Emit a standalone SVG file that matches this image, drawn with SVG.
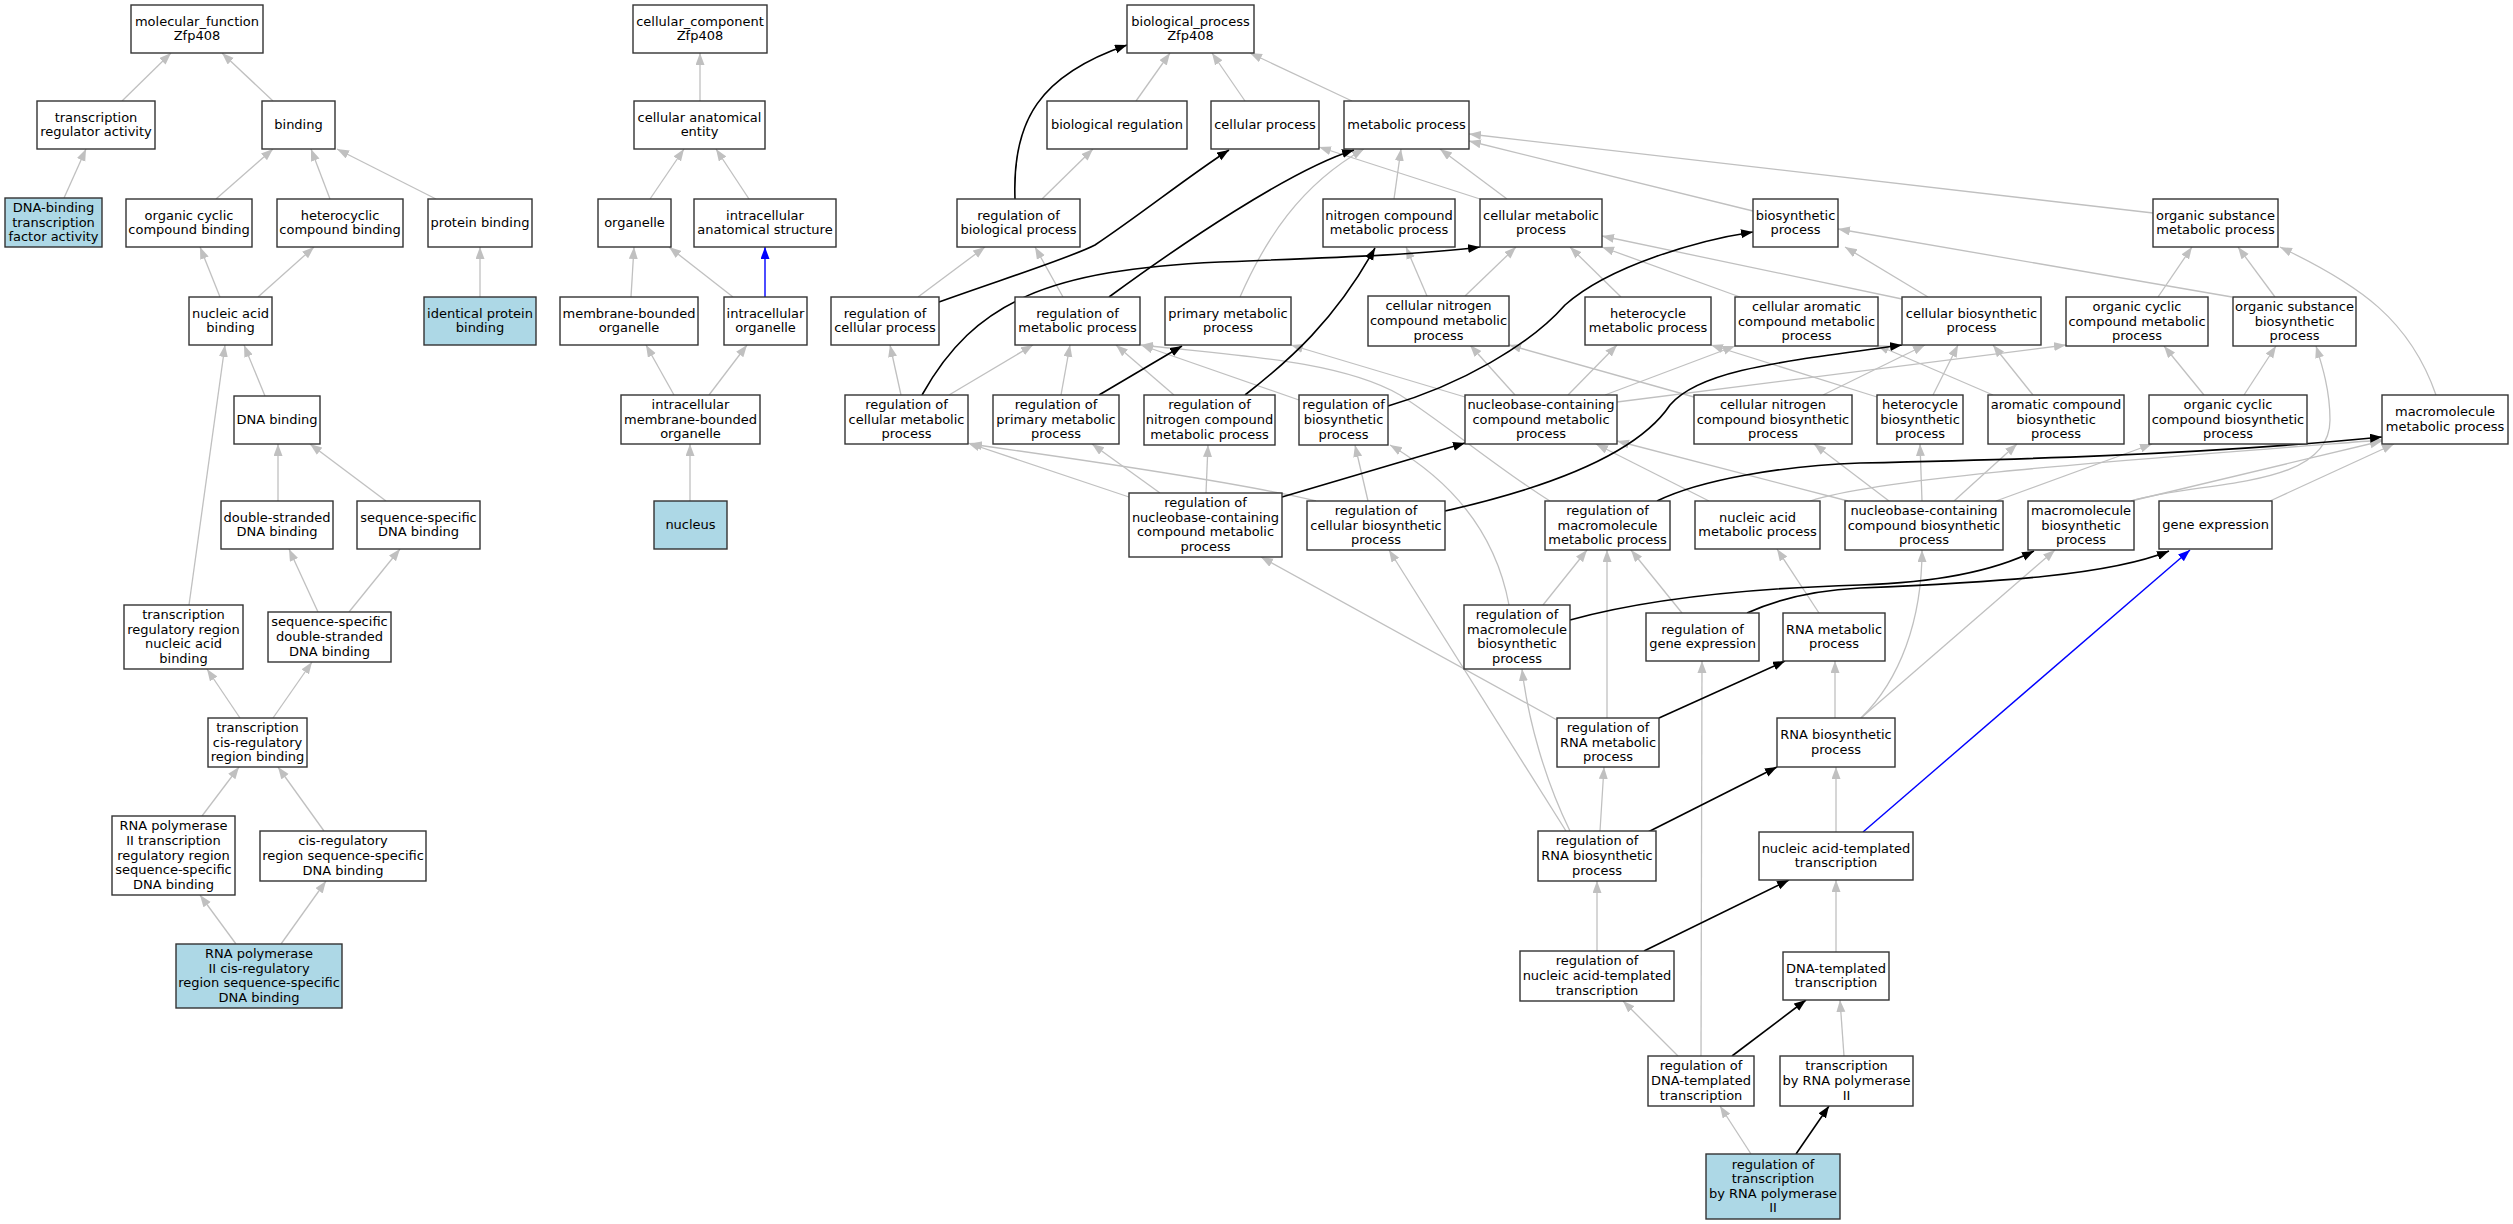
<svg xmlns="http://www.w3.org/2000/svg" width="2513" height="1224" viewBox="0 0 2513 1224">
<style>
.n rect{fill:#fff;stroke:#333;stroke-width:1.4}
.n.b rect{fill:#add8e6}
text{font-family:"DejaVu Sans","Liberation Sans",sans-serif;font-size:13px;text-anchor:middle;fill:#000}
.g{stroke:#c0c0c0;stroke-width:1.3;fill:none;marker-end:url(#ag)}
.k{stroke:#000;stroke-width:1.6;fill:none;marker-end:url(#ak)}
.u{stroke:#0000ff;stroke-width:1.4;fill:none;marker-end:url(#au)}
</style>
<defs>
<marker id="ag" markerUnits="userSpaceOnUse" markerWidth="13" markerHeight="10" refX="12" refY="4.5" orient="auto"><path d="M0,0 L12,4.5 L0,9 Z" fill="#c0c0c0"/></marker>
<marker id="ak" markerUnits="userSpaceOnUse" markerWidth="13" markerHeight="10" refX="12" refY="4.5" orient="auto"><path d="M0,0 L12,4.5 L0,9 Z" fill="#000"/></marker>
<marker id="au" markerUnits="userSpaceOnUse" markerWidth="13" markerHeight="10" refX="12" refY="4.5" orient="auto"><path d="M0,0 L12,4.5 L0,9 Z" fill="#0000ff"/></marker>
</defs>
<rect width="2513" height="1224" fill="#fff"/>
<g id="edges">
<path class="g" d="M122,101 L171,53"/>
<path class="g" d="M273,101 L222,53"/>
<path class="g" d="M64,198 L86,149"/>
<path class="g" d="M216,199 L273,149"/>
<path class="g" d="M330,199 L311,149"/>
<path class="g" d="M436,199 L337,149"/>
<path class="g" d="M480,297 L480,247"/>
<path class="g" d="M220,297 L200,247"/>
<path class="g" d="M258,297 L314,247"/>
<path class="g" d="M265,396 L244,345"/>
<path class="g" d="M189,605 L225,345"/>
<path class="g" d="M278,501 L278,444"/>
<path class="g" d="M386,501 L310,444"/>
<path class="g" d="M318,612 L289,549"/>
<path class="g" d="M349,612 L400,549"/>
<path class="g" d="M240,718 L207,669"/>
<path class="g" d="M273,718 L312,662"/>
<path class="g" d="M202,816 L239,767"/>
<path class="g" d="M324,831 L278,767"/>
<path class="g" d="M236,944 L200,895"/>
<path class="g" d="M281,944 L326,881"/>
<path class="g" d="M700,101 L700,53"/>
<path class="g" d="M650,199 L684,149"/>
<path class="g" d="M749,199 L716,149"/>
<path class="g" d="M631,297 L634,247"/>
<path class="g" d="M733,297 L669,247"/>
<path class="u" d="M765,297 L765,247"/>
<path class="g" d="M674,395 L646,345"/>
<path class="g" d="M709,395 L747,345"/>
<path class="g" d="M690,501 L690,444"/>
<path class="g" d="M1136,101 L1170,53"/>
<path class="g" d="M1245,101 L1212,53"/>
<path class="g" d="M1352,101 L1250,53"/>
<path class="g" d="M1042,199 L1093,149"/>
<path class="g" d="M918,297 L985,247"/>
<path class="g" d="M1063,297 L1035,247"/>
<path class="g" d="M901,395 L890,345"/>
<path class="g" d="M949,395 L1033,345"/>
<path class="g" d="M1061,395 L1070,345"/>
<path class="g" d="M1174,395 L1116,345"/>
<path class="g" d="M1299,400 L1141,345"/>
<path class="g" d="M1394,199 L1401,149"/>
<path class="g" d="M1507,199 L1440,149"/>
<path class="g" d="M1480,199 L1319,147"/>
<path class="g" d="M1753,211 L1469,141"/>
<path class="g" d="M2153,213 L1469,134"/>
<path class="g" d="M1240,297 C1265,240 1300,185 1364,149"/>
<path class="g" d="M1427,296 L1406,247"/>
<path class="g" d="M1465,296 L1516,247"/>
<path class="g" d="M1621,297 L1570,247"/>
<path class="g" d="M1740,297 L1602,247"/>
<path class="g" d="M1902,299 L1602,236"/>
<path class="g" d="M1928,297 L1845,247"/>
<path class="g" d="M2232,297 L1838,229"/>
<path class="g" d="M2275,297 L2238,247"/>
<path class="g" d="M2158,297 L2192,247"/>
<path class="g" d="M2436,395 C2410,320 2360,285 2280,247"/>
<path class="g" d="M1465,397 L1291,345"/>
<path class="g" d="M1515,395 L1470,345"/>
<path class="g" d="M1568,395 L1617,345"/>
<path class="g" d="M1605,395 L1735,346"/>
<path class="g" d="M1617,402 L2066,345"/>
<path class="g" d="M1694,397 L1509,345"/>
<path class="g" d="M1823,395 L1925,345"/>
<path class="g" d="M1877,397 L1711,345"/>
<path class="g" d="M1933,395 L1958,345"/>
<path class="g" d="M1993,395 L1877,345"/>
<path class="g" d="M2033,395 L1993,345"/>
<path class="g" d="M2204,395 L2164,346"/>
<path class="g" d="M2244,395 L2276,346"/>
<path class="g" d="M1129,497 L968,443"/>
<path class="g" d="M1160,493 L1092,444"/>
<path class="g" d="M1206,493 L1208,445"/>
<path class="g" d="M1368,501 L1355,445"/>
<path class="g" d="M1316,501 C1250,485 1120,465 970,444"/>
<path class="g" d="M1550,501 C1500,470 1440,420 1400,395 C1340,360 1230,355 1141,345"/>
<path class="g" d="M1709,501 L1596,444"/>
<path class="g" d="M1810,501 C1880,478 2100,462 2382,440"/>
<path class="g" d="M1848,501 L1617,441"/>
<path class="g" d="M1889,501 L1814,444"/>
<path class="g" d="M1922,501 L1920,444"/>
<path class="g" d="M1954,501 L2017,444"/>
<path class="g" d="M1996,501 L2152,444"/>
<path class="g" d="M2131,501 L2382,441"/>
<path class="g" d="M2131,501 C2200,480 2330,490 2330,420 C2330,390 2322,365 2316,346"/>
<path class="g" d="M2270,501 L2394,444"/>
<path class="g" d="M1543,605 L1587,550"/>
<path class="g" d="M1509,605 C1495,530 1450,480 1390,445"/>
<path class="g" d="M1682,613 L1631,550"/>
<path class="g" d="M1819,613 L1777,549"/>
<path class="g" d="M1607,718 L1607,550"/>
<path class="g" d="M1557,720 L1261,557"/>
<path class="g" d="M1835,718 L1835,661"/>
<path class="g" d="M1861,718 L2055,550"/>
<path class="g" d="M1861,718 C1900,680 1922,620 1922,550"/>
<path class="g" d="M1600,831 L1604,767"/>
<path class="g" d="M1570,831 C1545,780 1528,720 1522,669"/>
<path class="g" d="M1566,831 L1389,550"/>
<path class="g" d="M1836,832 L1836,767"/>
<path class="g" d="M1597,951 L1597,881"/>
<path class="g" d="M1836,952 L1836,880"/>
<path class="g" d="M1678,1056 L1623,1001"/>
<path class="g" d="M1701,1056 L1702,661"/>
<path class="g" d="M1844,1056 L1840,1000"/>
<path class="g" d="M1751,1154 L1720,1106"/>
<path class="k" d="M1015,199 C1012,120 1040,75 1127,45"/>
<path class="k" d="M939,302 C1000,280 1070,258 1095,245 C1140,215 1190,175 1229,150"/>
<path class="k" d="M1109,297 C1180,245 1290,170 1354,150"/>
<path class="k" d="M922,395 C975,300 1050,270 1220,262 C1320,258 1420,255 1480,247"/>
<path class="k" d="M1099,395 L1182,346"/>
<path class="k" d="M1245,395 C1290,360 1335,320 1375,248"/>
<path class="k" d="M1388,406 C1460,385 1530,345 1565,305 C1610,265 1700,240 1753,232"/>
<path class="k" d="M1282,497 L1465,443"/>
<path class="k" d="M1445,511 C1560,485 1640,450 1670,405 C1700,370 1780,362 1902,345"/>
<path class="k" d="M1657,501 C1700,480 1780,466 1860,463 C2000,460 2200,455 2382,437"/>
<path class="k" d="M1570,620 C1650,598 1760,588 1860,585 C1950,582 2000,568 2034,551"/>
<path class="k" d="M1747,613 C1780,598 1820,590 1860,588 C2000,582 2110,575 2169,551"/>
<path class="k" d="M1659,718 L1785,661"/>
<path class="k" d="M1648,832 L1777,767"/>
<path class="k" d="M1644,951 L1789,880"/>
<path class="k" d="M1732,1056 L1806,1000"/>
<path class="k" d="M1796,1154 L1829,1106"/>
<path class="u" d="M1863,832 L2190,550"/>
</g>
<g id="n_mf" class="n"><rect x="131" y="5" width="132" height="48"/><text x="197" y="25.7"><tspan x="197">molecular_function</tspan><tspan x="197" dy="14.6">Zfp408</tspan></text></g>
<g id="n_tra" class="n"><rect x="37" y="101" width="118" height="48"/><text x="96" y="121.7"><tspan x="96">transcription</tspan><tspan x="96" dy="14.6">regulator activity</tspan></text></g>
<g id="n_bind" class="n"><rect x="262" y="101" width="73" height="48"/><text x="298.5" y="129">binding</text></g>
<g id="n_dbtf" class="n b"><rect x="5" y="198" width="97" height="49"/><text x="53.5" y="211.9"><tspan x="53.5">DNA-binding</tspan><tspan x="53.5" dy="14.6">transcription</tspan><tspan x="53.5" dy="14.6">factor activity</tspan></text></g>
<g id="n_ocb" class="n"><rect x="126" y="199" width="126" height="48"/><text x="189" y="219.7"><tspan x="189">organic cyclic</tspan><tspan x="189" dy="14.6">compound binding</tspan></text></g>
<g id="n_hcb" class="n"><rect x="277" y="199" width="126" height="48"/><text x="340" y="219.7"><tspan x="340">heterocyclic</tspan><tspan x="340" dy="14.6">compound binding</tspan></text></g>
<g id="n_pb" class="n"><rect x="428" y="199" width="104" height="48"/><text x="480" y="227">protein binding</text></g>
<g id="n_nab" class="n"><rect x="189" y="297" width="83" height="48"/><text x="230.5" y="317.7"><tspan x="230.5">nucleic acid</tspan><tspan x="230.5" dy="14.6">binding</tspan></text></g>
<g id="n_ipb" class="n b"><rect x="424" y="297" width="112" height="48"/><text x="480" y="317.7"><tspan x="480">identical protein</tspan><tspan x="480" dy="14.6">binding</tspan></text></g>
<g id="n_dnab" class="n"><rect x="234" y="396" width="86" height="48"/><text x="277" y="424">DNA binding</text></g>
<g id="n_dsdna" class="n"><rect x="221" y="501" width="112" height="48"/><text x="277" y="521.7"><tspan x="277">double-stranded</tspan><tspan x="277" dy="14.6">DNA binding</tspan></text></g>
<g id="n_ssdna" class="n"><rect x="357" y="501" width="123" height="48"/><text x="418.5" y="521.7"><tspan x="418.5">sequence-specific</tspan><tspan x="418.5" dy="14.6">DNA binding</tspan></text></g>
<g id="n_trrnab" class="n"><rect x="124" y="605" width="119" height="64"/><text x="183.5" y="619.1"><tspan x="183.5">transcription</tspan><tspan x="183.5" dy="14.6">regulatory region</tspan><tspan x="183.5" dy="14.6">nucleic acid</tspan><tspan x="183.5" dy="14.6">binding</tspan></text></g>
<g id="n_ssds" class="n"><rect x="268" y="612" width="123" height="50"/><text x="329.5" y="626.4"><tspan x="329.5">sequence-specific</tspan><tspan x="329.5" dy="14.6">double-stranded</tspan><tspan x="329.5" dy="14.6">DNA binding</tspan></text></g>
<g id="n_tcrrb" class="n"><rect x="208" y="718" width="99" height="49"/><text x="257.5" y="731.9"><tspan x="257.5">transcription</tspan><tspan x="257.5" dy="14.6">cis-regulatory</tspan><tspan x="257.5" dy="14.6">region binding</tspan></text></g>
<g id="n_p2trr" class="n"><rect x="112" y="816" width="123" height="79"/><text x="173.5" y="830.3"><tspan x="173.5">RNA polymerase</tspan><tspan x="173.5" dy="14.6">II transcription</tspan><tspan x="173.5" dy="14.6">regulatory region</tspan><tspan x="173.5" dy="14.6">sequence-specific</tspan><tspan x="173.5" dy="14.6">DNA binding</tspan></text></g>
<g id="n_crss" class="n"><rect x="260" y="831" width="166" height="50"/><text x="343" y="845.4"><tspan x="343">cis-regulatory</tspan><tspan x="343" dy="14.6">region sequence-specific</tspan><tspan x="343" dy="14.6">DNA binding</tspan></text></g>
<g id="n_p2cr" class="n b"><rect x="176" y="944" width="166" height="64"/><text x="259" y="958.1"><tspan x="259">RNA polymerase</tspan><tspan x="259" dy="14.6">II cis-regulatory</tspan><tspan x="259" dy="14.6">region sequence-specific</tspan><tspan x="259" dy="14.6">DNA binding</tspan></text></g>
<g id="n_cc" class="n"><rect x="633" y="5" width="134" height="48"/><text x="700" y="25.7"><tspan x="700">cellular_component</tspan><tspan x="700" dy="14.6">Zfp408</tspan></text></g>
<g id="n_cae" class="n"><rect x="634" y="101" width="131" height="48"/><text x="699.5" y="121.7"><tspan x="699.5">cellular anatomical</tspan><tspan x="699.5" dy="14.6">entity</tspan></text></g>
<g id="n_org" class="n"><rect x="598" y="199" width="73" height="48"/><text x="634.5" y="227">organelle</text></g>
<g id="n_ias" class="n"><rect x="694" y="199" width="142" height="48"/><text x="765" y="219.7"><tspan x="765">intracellular</tspan><tspan x="765" dy="14.6">anatomical structure</tspan></text></g>
<g id="n_mbo" class="n"><rect x="560" y="297" width="138" height="48"/><text x="629" y="317.7"><tspan x="629">membrane-bounded</tspan><tspan x="629" dy="14.6">organelle</tspan></text></g>
<g id="n_io" class="n"><rect x="724" y="297" width="83" height="48"/><text x="765.5" y="317.7"><tspan x="765.5">intracellular</tspan><tspan x="765.5" dy="14.6">organelle</tspan></text></g>
<g id="n_imbo" class="n"><rect x="621" y="395" width="139" height="49"/><text x="690.5" y="408.9"><tspan x="690.5">intracellular</tspan><tspan x="690.5" dy="14.6">membrane-bounded</tspan><tspan x="690.5" dy="14.6">organelle</tspan></text></g>
<g id="n_nuc" class="n b"><rect x="654" y="501" width="73" height="48"/><text x="690.5" y="529">nucleus</text></g>
<g id="n_bp" class="n"><rect x="1127" y="5" width="127" height="48"/><text x="1190.5" y="25.7"><tspan x="1190.5">biological_process</tspan><tspan x="1190.5" dy="14.6">Zfp408</tspan></text></g>
<g id="n_breg" class="n"><rect x="1047" y="101" width="140" height="48"/><text x="1117" y="129">biological regulation</text></g>
<g id="n_cp" class="n"><rect x="1211" y="101" width="108" height="48"/><text x="1265" y="129">cellular process</text></g>
<g id="n_mp" class="n"><rect x="1344" y="101" width="125" height="48"/><text x="1406.5" y="129">metabolic process</text></g>
<g id="n_rbp" class="n"><rect x="957" y="199" width="123" height="48"/><text x="1018.5" y="219.7"><tspan x="1018.5">regulation of</tspan><tspan x="1018.5" dy="14.6">biological process</tspan></text></g>
<g id="n_ncmp" class="n"><rect x="1323" y="199" width="132" height="48"/><text x="1389" y="219.7"><tspan x="1389">nitrogen compound</tspan><tspan x="1389" dy="14.6">metabolic process</tspan></text></g>
<g id="n_cmp" class="n"><rect x="1480" y="199" width="122" height="48"/><text x="1541" y="219.7"><tspan x="1541">cellular metabolic</tspan><tspan x="1541" dy="14.6">process</tspan></text></g>
<g id="n_bsp" class="n"><rect x="1753" y="199" width="85" height="48"/><text x="1795.5" y="219.7"><tspan x="1795.5">biosynthetic</tspan><tspan x="1795.5" dy="14.6">process</tspan></text></g>
<g id="n_osm" class="n"><rect x="2153" y="199" width="125" height="48"/><text x="2215.5" y="219.7"><tspan x="2215.5">organic substance</tspan><tspan x="2215.5" dy="14.6">metabolic process</tspan></text></g>
<g id="n_rcp" class="n"><rect x="831" y="297" width="108" height="48"/><text x="885" y="317.7"><tspan x="885">regulation of</tspan><tspan x="885" dy="14.6">cellular process</tspan></text></g>
<g id="n_rmp" class="n"><rect x="1015" y="297" width="125" height="48"/><text x="1077.5" y="317.7"><tspan x="1077.5">regulation of</tspan><tspan x="1077.5" dy="14.6">metabolic process</tspan></text></g>
<g id="n_pmp" class="n"><rect x="1165" y="297" width="126" height="48"/><text x="1228" y="317.7"><tspan x="1228">primary metabolic</tspan><tspan x="1228" dy="14.6">process</tspan></text></g>
<g id="n_cncmp" class="n"><rect x="1368" y="296" width="141" height="50"/><text x="1438.5" y="310.4"><tspan x="1438.5">cellular nitrogen</tspan><tspan x="1438.5" dy="14.6">compound metabolic</tspan><tspan x="1438.5" dy="14.6">process</tspan></text></g>
<g id="n_hmp" class="n"><rect x="1585" y="297" width="126" height="48"/><text x="1648" y="317.7"><tspan x="1648">heterocycle</tspan><tspan x="1648" dy="14.6">metabolic process</tspan></text></g>
<g id="n_camp" class="n"><rect x="1735" y="297" width="143" height="49"/><text x="1806.5" y="310.9"><tspan x="1806.5">cellular aromatic</tspan><tspan x="1806.5" dy="14.6">compound metabolic</tspan><tspan x="1806.5" dy="14.6">process</tspan></text></g>
<g id="n_cbp" class="n"><rect x="1902" y="297" width="139" height="48"/><text x="1971.5" y="317.7"><tspan x="1971.5">cellular biosynthetic</tspan><tspan x="1971.5" dy="14.6">process</tspan></text></g>
<g id="n_occm" class="n"><rect x="2066" y="297" width="142" height="49"/><text x="2137" y="310.9"><tspan x="2137">organic cyclic</tspan><tspan x="2137" dy="14.6">compound metabolic</tspan><tspan x="2137" dy="14.6">process</tspan></text></g>
<g id="n_osb" class="n"><rect x="2233" y="297" width="123" height="49"/><text x="2294.5" y="310.9"><tspan x="2294.5">organic substance</tspan><tspan x="2294.5" dy="14.6">biosynthetic</tspan><tspan x="2294.5" dy="14.6">process</tspan></text></g>
<g id="n_rcmp" class="n"><rect x="845" y="395" width="123" height="49"/><text x="906.5" y="408.9"><tspan x="906.5">regulation of</tspan><tspan x="906.5" dy="14.6">cellular metabolic</tspan><tspan x="906.5" dy="14.6">process</tspan></text></g>
<g id="n_rpmp" class="n"><rect x="993" y="395" width="126" height="49"/><text x="1056" y="408.9"><tspan x="1056">regulation of</tspan><tspan x="1056" dy="14.6">primary metabolic</tspan><tspan x="1056" dy="14.6">process</tspan></text></g>
<g id="n_rncm" class="n"><rect x="1144" y="395" width="131" height="50"/><text x="1209.5" y="409.4"><tspan x="1209.5">regulation of</tspan><tspan x="1209.5" dy="14.6">nitrogen compound</tspan><tspan x="1209.5" dy="14.6">metabolic process</tspan></text></g>
<g id="n_rbsp" class="n"><rect x="1299" y="395" width="89" height="50"/><text x="1343.5" y="409.4"><tspan x="1343.5">regulation of</tspan><tspan x="1343.5" dy="14.6">biosynthetic</tspan><tspan x="1343.5" dy="14.6">process</tspan></text></g>
<g id="n_nccmp" class="n"><rect x="1465" y="395" width="152" height="49"/><text x="1541" y="408.9"><tspan x="1541">nucleobase-containing</tspan><tspan x="1541" dy="14.6">compound metabolic</tspan><tspan x="1541" dy="14.6">process</tspan></text></g>
<g id="n_cncb" class="n"><rect x="1694" y="395" width="158" height="49"/><text x="1773" y="408.9"><tspan x="1773">cellular nitrogen</tspan><tspan x="1773" dy="14.6">compound biosynthetic</tspan><tspan x="1773" dy="14.6">process</tspan></text></g>
<g id="n_hbp" class="n"><rect x="1877" y="395" width="86" height="49"/><text x="1920" y="408.9"><tspan x="1920">heterocycle</tspan><tspan x="1920" dy="14.6">biosynthetic</tspan><tspan x="1920" dy="14.6">process</tspan></text></g>
<g id="n_acb" class="n"><rect x="1988" y="395" width="136" height="49"/><text x="2056" y="408.9"><tspan x="2056">aromatic compound</tspan><tspan x="2056" dy="14.6">biosynthetic</tspan><tspan x="2056" dy="14.6">process</tspan></text></g>
<g id="n_occb" class="n"><rect x="2149" y="395" width="158" height="49"/><text x="2228" y="408.9"><tspan x="2228">organic cyclic</tspan><tspan x="2228" dy="14.6">compound biosynthetic</tspan><tspan x="2228" dy="14.6">process</tspan></text></g>
<g id="n_mmp" class="n"><rect x="2382" y="395" width="126" height="49"/><text x="2445" y="416.2"><tspan x="2445">macromolecule</tspan><tspan x="2445" dy="14.6">metabolic process</tspan></text></g>
<g id="n_rnccmp" class="n"><rect x="1129" y="493" width="153" height="64"/><text x="1205.5" y="507.1"><tspan x="1205.5">regulation of</tspan><tspan x="1205.5" dy="14.6">nucleobase-containing</tspan><tspan x="1205.5" dy="14.6">compound metabolic</tspan><tspan x="1205.5" dy="14.6">process</tspan></text></g>
<g id="n_rcbp" class="n"><rect x="1307" y="501" width="138" height="49"/><text x="1376" y="514.9"><tspan x="1376">regulation of</tspan><tspan x="1376" dy="14.6">cellular biosynthetic</tspan><tspan x="1376" dy="14.6">process</tspan></text></g>
<g id="n_rmmp" class="n"><rect x="1545" y="501" width="125" height="49"/><text x="1607.5" y="514.9"><tspan x="1607.5">regulation of</tspan><tspan x="1607.5" dy="14.6">macromolecule</tspan><tspan x="1607.5" dy="14.6">metabolic process</tspan></text></g>
<g id="n_namp" class="n"><rect x="1695" y="501" width="125" height="48"/><text x="1757.5" y="521.7"><tspan x="1757.5">nucleic acid</tspan><tspan x="1757.5" dy="14.6">metabolic process</tspan></text></g>
<g id="n_nccb" class="n"><rect x="1845" y="501" width="158" height="49"/><text x="1924" y="514.9"><tspan x="1924">nucleobase-containing</tspan><tspan x="1924" dy="14.6">compound biosynthetic</tspan><tspan x="1924" dy="14.6">process</tspan></text></g>
<g id="n_mbp" class="n"><rect x="2028" y="501" width="106" height="49"/><text x="2081" y="514.9"><tspan x="2081">macromolecule</tspan><tspan x="2081" dy="14.6">biosynthetic</tspan><tspan x="2081" dy="14.6">process</tspan></text></g>
<g id="n_ge" class="n"><rect x="2159" y="501" width="113" height="48"/><text x="2215.5" y="529">gene expression</text></g>
<g id="n_rmbp" class="n"><rect x="1464" y="605" width="106" height="64"/><text x="1517" y="619.1"><tspan x="1517">regulation of</tspan><tspan x="1517" dy="14.6">macromolecule</tspan><tspan x="1517" dy="14.6">biosynthetic</tspan><tspan x="1517" dy="14.6">process</tspan></text></g>
<g id="n_rge" class="n"><rect x="1646" y="613" width="113" height="48"/><text x="1702.5" y="633.7"><tspan x="1702.5">regulation of</tspan><tspan x="1702.5" dy="14.6">gene expression</tspan></text></g>
<g id="n_rnamp" class="n"><rect x="1783" y="613" width="102" height="48"/><text x="1834" y="633.7"><tspan x="1834">RNA metabolic</tspan><tspan x="1834" dy="14.6">process</tspan></text></g>
<g id="n_rrmp" class="n"><rect x="1557" y="718" width="102" height="49"/><text x="1608" y="731.9"><tspan x="1608">regulation of</tspan><tspan x="1608" dy="14.6">RNA metabolic</tspan><tspan x="1608" dy="14.6">process</tspan></text></g>
<g id="n_rnab" class="n"><rect x="1777" y="718" width="118" height="49"/><text x="1836" y="739.2"><tspan x="1836">RNA biosynthetic</tspan><tspan x="1836" dy="14.6">process</tspan></text></g>
<g id="n_rrbp" class="n"><rect x="1538" y="831" width="118" height="50"/><text x="1597" y="845.4"><tspan x="1597">regulation of</tspan><tspan x="1597" dy="14.6">RNA biosynthetic</tspan><tspan x="1597" dy="14.6">process</tspan></text></g>
<g id="n_natt" class="n"><rect x="1759" y="832" width="154" height="48"/><text x="1836" y="852.7"><tspan x="1836">nucleic acid-templated</tspan><tspan x="1836" dy="14.6">transcription</tspan></text></g>
<g id="n_rnatt" class="n"><rect x="1520" y="951" width="154" height="50"/><text x="1597" y="965.4"><tspan x="1597">regulation of</tspan><tspan x="1597" dy="14.6">nucleic acid-templated</tspan><tspan x="1597" dy="14.6">transcription</tspan></text></g>
<g id="n_dtt" class="n"><rect x="1783" y="952" width="106" height="48"/><text x="1836" y="972.7"><tspan x="1836">DNA-templated</tspan><tspan x="1836" dy="14.6">transcription</tspan></text></g>
<g id="n_rdtt" class="n"><rect x="1648" y="1056" width="106" height="50"/><text x="1701" y="1070.4"><tspan x="1701">regulation of</tspan><tspan x="1701" dy="14.6">DNA-templated</tspan><tspan x="1701" dy="14.6">transcription</tspan></text></g>
<g id="n_tp2" class="n"><rect x="1780" y="1056" width="133" height="50"/><text x="1846.5" y="1070.4"><tspan x="1846.5">transcription</tspan><tspan x="1846.5" dy="14.6">by RNA polymerase</tspan><tspan x="1846.5" dy="14.6">II</tspan></text></g>
<g id="n_rtp2" class="n b"><rect x="1706" y="1154" width="134" height="65"/><text x="1773" y="1168.6"><tspan x="1773">regulation of</tspan><tspan x="1773" dy="14.6">transcription</tspan><tspan x="1773" dy="14.6">by RNA polymerase</tspan><tspan x="1773" dy="14.6">II</tspan></text></g>
</svg>
